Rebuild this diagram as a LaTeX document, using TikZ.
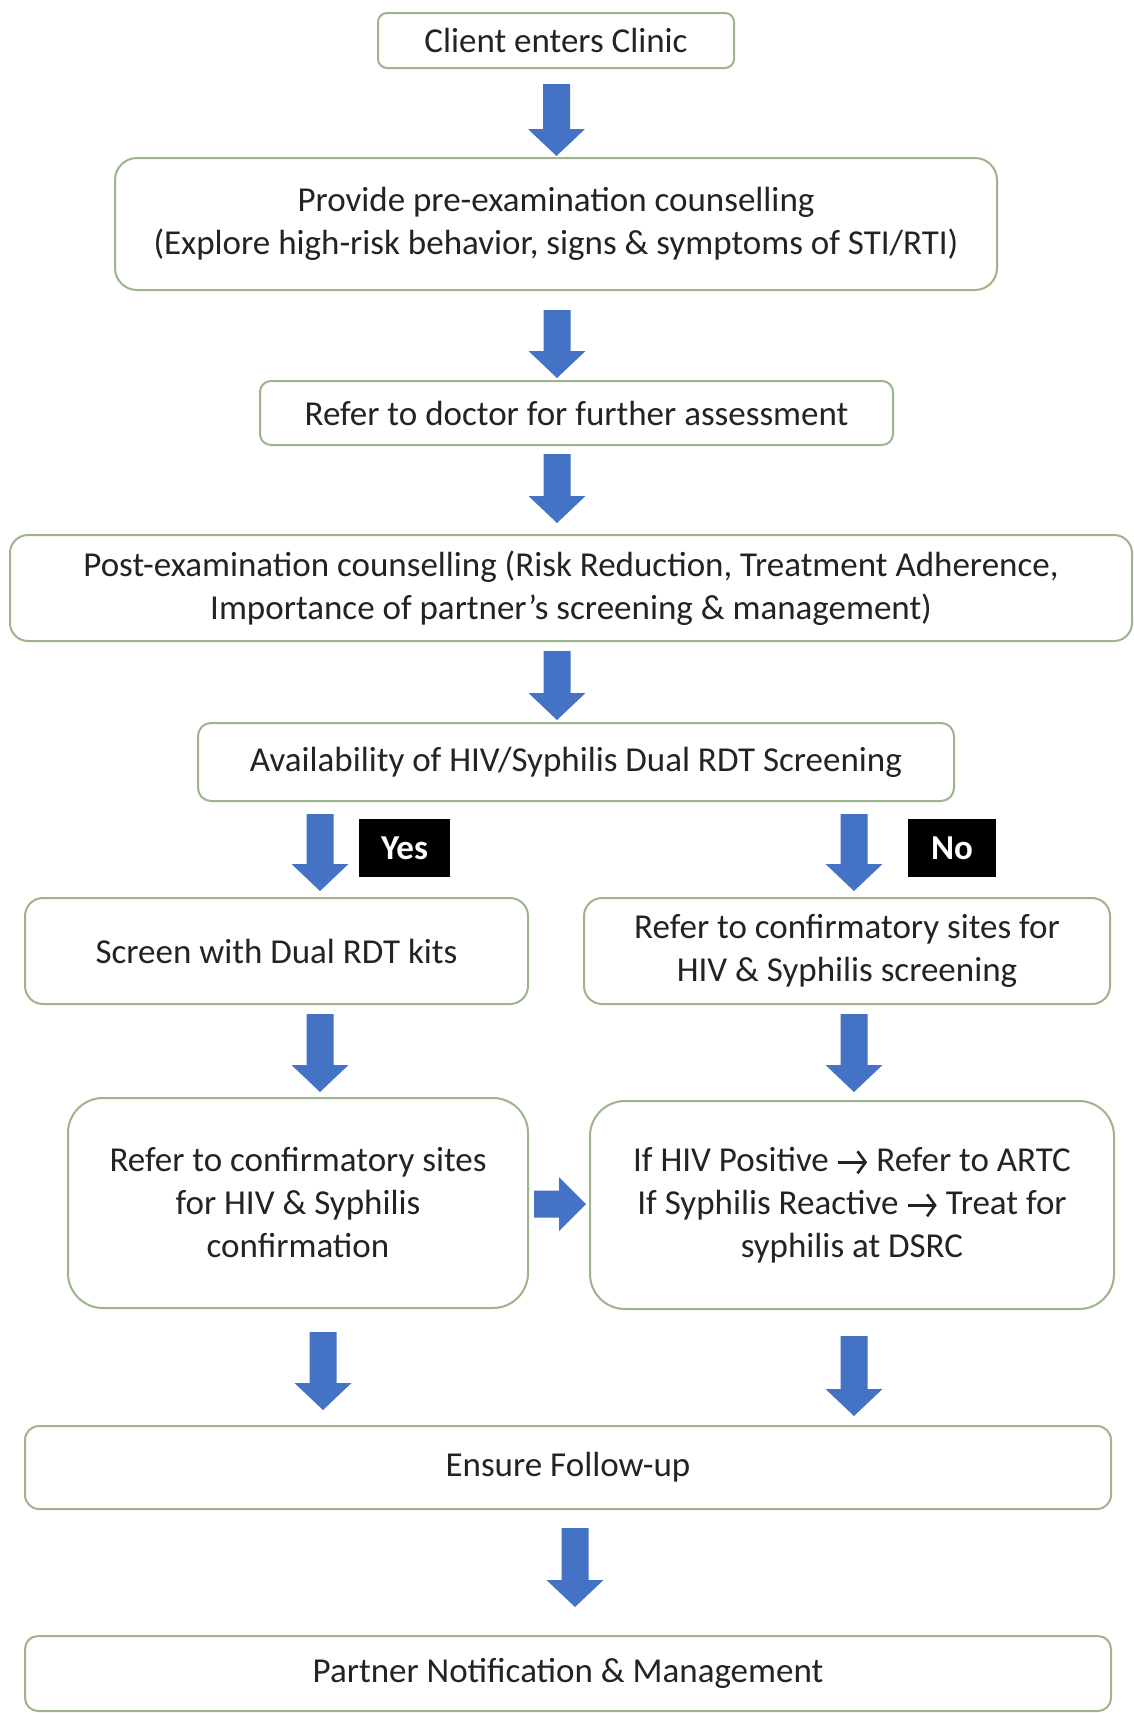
\documentclass[tikz,border=0pt]{standalone}
\usepackage{fontspec}
\setmainfont{Carlito}
\usetikzlibrary{calc,arrows.meta}
\definecolor{boxline}{RGB}{158,180,140}
\definecolor{arrowblue}{RGB}{68,114,196}
\definecolor{txt}{RGB}{35,35,35}
\newcommand\rarr{\tikz[baseline=-9pt]\draw[txt, line width=2.6pt, -{Straight Barb[length=8pt 0 0,width=22pt 0 0]}] (0pt,0pt) -- (29pt,0pt);}
% down block arrow: #1 source node, #2 target node, #3 x, #4 gap below source, #5 gap above target
\newcommand\dnarrow[5]{%
 \fill[arrowblue] let \p1=(#1.south), \p2=(#2.north) in
  (#3pt-13.5pt,\y1-#4pt) -- (#3pt+13.5pt,\y1-#4pt) -- (#3pt+13.5pt,\y2+#5pt+27pt)
  -- (#3pt+28.5pt,\y2+#5pt+27pt) -- (#3pt,\y2+#5pt) -- (#3pt-28.5pt,\y2+#5pt+27pt)
  -- (#3pt-13.5pt,\y2+#5pt+27pt) -- cycle;}
% right block arrow: #1 source node, #2 target node, #3 y, #4 gap, #5 tip gap
\newcommand\rtarrow[5]{%
 \fill[arrowblue] let \p1=(#1.east), \p2=(#2.west) in
  (\x1+#4pt,#3pt-13.5pt) -- (\x2-#5pt-27pt,#3pt-13.5pt) -- (\x2-#5pt-27pt,#3pt-27pt)
  -- (\x2-#5pt,#3pt) -- (\x2-#5pt-27pt,#3pt+27pt) -- (\x2-#5pt-27pt,#3pt+13.5pt)
  -- (\x1+#4pt,#3pt+13.5pt) -- cycle;}
\begin{document}
\begin{tikzpicture}[x=1pt,y=1pt,
  box/.style={draw=boxline, line width=2pt, fill=white, align=center, inner sep=0pt,
    text=txt, font=\fontsize{35}{43}\selectfont},
  tag/.style={fill=black, text=white, font=\bfseries\fontsize{35}{35}\selectfont,
    inner sep=0pt, minimum height=58pt}]
\useasboundingbox (0,0) rectangle (1134,-1713);
\fill[white] (0,0) rectangle (1134,-1713);

\node[box, minimum width=356pt, minimum height=55pt, rounded corners=9pt] (client) at (556,-40.5) {Client enters Clinic};
\node[box, minimum width=882pt, minimum height=132pt, rounded corners=22pt] (pre) at (556,-224)
  {Provide pre-examination counselling\\(Explore high-risk behavior, signs \& symptoms of STI/RTI)};
\node[box, minimum width=633pt, minimum height=64pt, rounded corners=11pt] (doctor) at (576.5,-413)
  {Refer to doctor for further assessment};
\node[box, minimum width=1122pt, minimum height=106pt, rounded corners=18pt] (post) at (571,-588)
  {Post-examination counselling (Risk Reduction, Treatment Adherence,\\Importance of partner’s screening \& management)};
\node[box, minimum width=756pt, minimum height=78pt, rounded corners=13pt] (avail) at (576,-762)
  {Availability of HIV/Syphilis Dual RDT Screening};
\node[box, minimum width=503pt, minimum height=106pt, rounded corners=18pt] (screen) at (276.5,-951)
  {Screen with Dual RDT kits};
\node[box, minimum width=526pt, minimum height=106pt, rounded corners=18pt] (referc) at (847,-951)
  {Refer to confirmatory sites for\\HIV \& Syphilis screening};
\node[box, minimum width=460pt, minimum height=210pt, rounded corners=35pt] (confirm) at (298,-1203)
  {Refer to confirmatory sites\\for HIV \& Syphilis\\confirmation};
\node[box, minimum width=524pt, minimum height=208pt, rounded corners=35pt] (result) at (852,-1205)
  {If HIV Positive \rarr{} Refer to ARTC\\If Syphilis Reactive \rarr{} Treat for\\syphilis at DSRC};
\node[box, minimum width=1086pt, minimum height=83pt, rounded corners=14pt] (follow) at (568,-1467.5)
  {Ensure Follow-up};
\node[box, minimum width=1086pt, minimum height=75pt, rounded corners=13pt] (partner) at (568,-1673.5)
  {Partner Notification \& Management};

\node[tag, minimum width=91pt] (yes) at (404.5,-848) {Yes};
\node[tag, minimum width=88pt] (no) at (952,-848) {No};

\dnarrow{client}{pre}{556.5}{15}{1}
\dnarrow{pre}{doctor}{557}{19}{2}
\dnarrow{doctor}{post}{557}{8}{11}
\dnarrow{post}{avail}{557}{9}{2}
\dnarrow{avail}{screen}{320}{12}{6}
\dnarrow{avail}{referc}{854}{12}{6}
\dnarrow{screen}{confirm}{320}{9}{5}
\dnarrow{referc}{result}{854}{9}{8}
\dnarrow{confirm}{follow}{323}{23}{15}
\dnarrow{result}{follow}{854}{26}{9}
\dnarrow{follow}{partner}{575}{18}{28}
\rtarrow{confirm}{result}{-1204}{5}{3}
\end{tikzpicture}
\end{document}
